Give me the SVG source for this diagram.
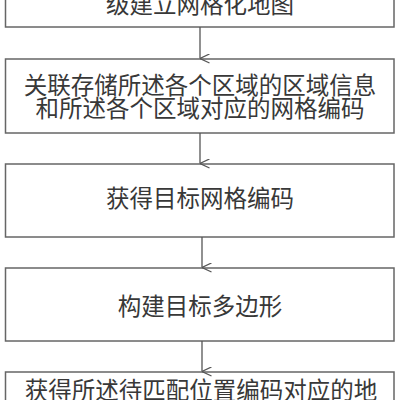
<svg xmlns="http://www.w3.org/2000/svg" width="400" height="400" viewBox="0 0 400 400">
<style>
.box{fill:#fff;stroke:#666;stroke-width:1.5}
.t{font-family:"Noto Sans CJK SC","Noto Sans",sans-serif;font-size:23.5px;fill:#383838;text-anchor:middle}
.c{stroke:#555;stroke-width:1.3;fill:none}
</style>
<defs>
<marker id="ah" viewBox="0 0 10 10" refX="5" refY="9.5" markerWidth="10" markerHeight="10" markerUnits="userSpaceOnUse" orient="auto-start-reverse">
<path d="M0.5 0 L5 9.5 L9.5 0" fill="none" stroke="#555" stroke-width="1.3"/>
</marker>
</defs>
<rect width="400" height="400" fill="#fff"/>
<g id="n1">
<rect class="box" x="5.5" y="-46" width="388.5" height="73"/>
<text class="t" x="200" y="13">级建立网格化地图</text>
</g>
<g id="n2">
<rect class="box" x="5.5" y="59" width="388.5" height="74"/>
<text class="t"><tspan x="200" y="94">关联存储所述各个区域的区域信息</tspan><tspan x="200" y="117">和所述各个区域对应的网格编码</tspan></text>
</g>
<g id="n3">
<rect class="box" x="5.5" y="164" width="388.5" height="73"/>
<text class="t" x="200" y="207">获得目标网格编码</text>
</g>
<g id="n4">
<rect class="box" x="5.5" y="268" width="388.5" height="73"/>
<text class="t" x="200" y="315">构建目标多边形</text>
</g>
<g id="n5">
<rect class="box" x="5.5" y="372" width="388.5" height="73"/>
<text class="t" x="201" y="399">获得所述待匹配位置编码对应的地</text>
</g>
<g id="connectors">
<line class="c" x1="200" y1="27" x2="200" y2="58.5" marker-end="url(#ah)"/>
<line class="c" x1="200" y1="133" x2="200" y2="163.5" marker-end="url(#ah)"/>
<line class="c" x1="202" y1="237" x2="202" y2="267.5" marker-end="url(#ah)"/>
<line class="c" x1="202" y1="341" x2="202" y2="371.5" marker-end="url(#ah)"/>
</g>
</svg>
